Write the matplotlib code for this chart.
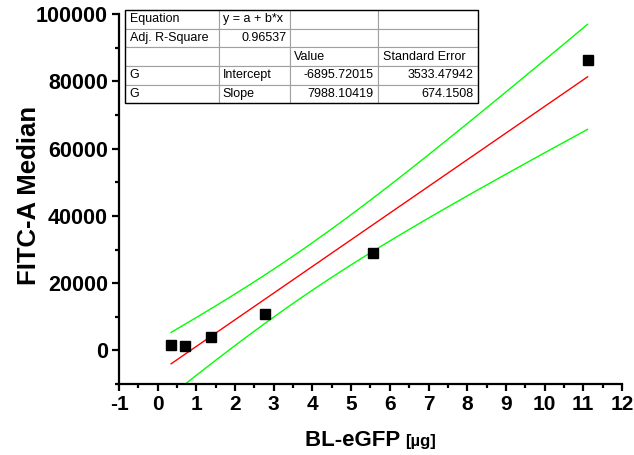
import numpy as np
import matplotlib.pyplot as plt
from matplotlib.patches import Rectangle
from matplotlib.offsetbox import TextArea, HPacker, AnchoredOffsetbox

plt.rcParams['font.family'] = ['Liberation Sans', 'DejaVu Sans']
plt.rcParams['axes.unicode_minus'] = False

# data
conc = [0.347, 0.694, 1.389, 2.778, 5.556, 11.111]
fitc = [1700, 1200, 4060, 10680, 29000, 86350]

# fit results table (text as in the reference)
table_rows = [
    ['Equation', 'y = a + b*x', '', ''],
    ['Adj. R-Square', '0.96537', '', ''],
    ['', '', 'Value', 'Standard Error'],
    ['G', 'Intercept', '-6895.72015', '3533.47942'],
    ['G', 'Slope', '7988.10419', '674.1508'],
]
right_cells = [(1, 1), (3, 2), (3, 3), (4, 2), (4, 3)]

x = np.array(conc)
y = np.array(fitc)
n = len(x)
b, a = np.polyfit(x, y, 1)
resid = y - (a + b * x)
s = np.sqrt(np.sum(resid ** 2) / (n - 2))
sxx = np.sum((x - x.mean()) ** 2)
t_crit = 2.776  # 95%, df = 4

xs = np.linspace(x.min(), x.max(), 200)
fit = a + b * xs
half = t_crit * s * np.sqrt(1 / n + (xs - x.mean()) ** 2 / sxx)

fig = plt.figure(figsize=(6.34, 4.55), dpi=100)
ax = fig.add_axes([0.1877, 0.156, 0.7933, 0.813])

ax.plot(xs, fit, color='#ff0000', lw=1)
ax.plot(xs, fit + half, color='#00ff00', lw=1)
ax.plot(xs, fit - half, color='#00ff00', lw=1)
ax.plot(conc, fitc, 's', color='black', ms=6.5, zorder=5)

ax.set_xlim(-1, 12)
ax.set_ylim(-10000, 100000)
ax.set_xticks(range(-1, 13))
ax.set_xticks(np.arange(-0.5, 12, 1), minor=True)
ax.set_yticks(range(0, 100001, 20000))
ax.set_yticks(range(-10000, 100001, 20000), minor=True)

for side in ['top', 'right']:
    ax.spines[side].set_visible(False)
for side in ['left', 'bottom']:
    ax.spines[side].set_linewidth(1.6)

ax.tick_params(which='major', direction='out', length=5, width=1.6, pad=3)
ax.tick_params(which='minor', direction='out', length=3, width=1.6)
ax.tick_params(axis='x', labelsize=15)
ax.tick_params(axis='y', labelsize=15.5)
for lbl in ax.get_xticklabels() + ax.get_yticklabels():
    lbl.set_fontweight('bold')

ax.set_ylabel('FITC-A Median', fontsize=18.5, fontweight='bold')
ax.yaxis.set_label_coords(-0.155, 0.51)

# x label: bold name plus smaller unit
xlab = HPacker(children=[
    TextArea('BL-eGFP ', textprops=dict(fontsize=16, fontweight='bold')),
    TextArea('[µg]', textprops=dict(fontsize=12, fontweight='bold')),
], align='baseline', pad=0, sep=0)
box = AnchoredOffsetbox(loc='center', child=xlab, frameon=False,
                        bbox_to_anchor=(0.5, -0.152), bbox_transform=ax.transAxes,
                        borderpad=0, pad=0)
ax.add_artist(box)

# table
col_px = [94, 71, 88, 100]
tb_x0, tb_w = 0.012, sum(col_px) / 503
tb_y0, tb_h = 0.759, 0.252
tbl = ax.table(cellText=table_rows, cellLoc='left',
               colWidths=[c / sum(col_px) for c in col_px],
               bbox=[tb_x0, tb_y0, tb_w, tb_h], zorder=6)
tbl.auto_set_font_size(False)
tbl.set_fontsize(9)
for (r, c), cell in tbl.get_celld().items():
    cell.set_edgecolor('#a0a0a0')
    cell.set_linewidth(0.8)
    cell.PAD = 0.05
    if (r, c) in right_cells:
        cell._loc = 'right'
        cell.get_text().set_horizontalalignment('right')
ax.add_patch(Rectangle((tb_x0, tb_y0), tb_w, tb_h, transform=ax.transAxes,
                       fill=False, edgecolor='black', lw=1, zorder=7, clip_on=False))

fig.savefig('out.png', dpi=100)
